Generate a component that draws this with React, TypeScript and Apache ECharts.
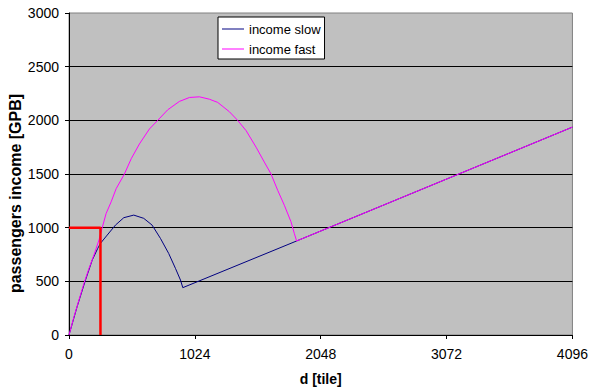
import React, { useEffect, useRef } from "react";
import * as echarts from "echarts";

const xTicks = [0, 1024, 2048, 3072, 4096];
const yTicks = [0, 500, 1000, 1500, 2000, 2500, 3000];

const dSlow = [0, 66, 134, 189, 234, 256, 311, 378, 446, 527, 608, 676, 744, 811, 866, 907, 926, 1852, 4096];
const incomeSlow = [0, 264, 512, 698, 807, 854, 931, 1024, 1093, 1117, 1087, 1024, 900, 760, 621, 512, 441, 876, 1937];

const dFast = [0, 41, 81, 122, 163, 203, 244, 268, 302, 343, 384, 451, 506, 573, 654, 722, 803, 898, 980, 1061, 1142, 1210, 1305, 1372, 1441, 1522, 1589, 1644, 1698, 1752, 1806, 1833, 1852, 4096];
const incomeFast = [0, 171, 326, 481, 621, 745, 885, 990, 1132, 1241, 1364, 1500, 1642, 1780, 1919, 2000, 2098, 2176, 2213, 2219, 2197, 2167, 2080, 2000, 1904, 1750, 1611, 1500, 1348, 1209, 1055, 947, 876, 1937];

const markerD = [0, 256, 256];
const markerV = [1000, 1000, 0];

const FONT = "'Liberation Sans', Arial, sans-serif";

export default function App() {
  const ref = useRef<HTMLDivElement>(null);
  useEffect(() => {
    if (!ref.current) return;
    const chart = echarts.init(ref.current, null, { renderer: "svg" });
    const zip = (xs: number[], ys: number[]) => xs.map((x, i) => [x, ys[i]]);
    const plain = (v: number) => String(v);
    chart.setOption({
      animation: false,
      backgroundColor: "#ffffff",
      textStyle: { fontFamily: FONT },
      grid: {
        left: 69,
        top: 13,
        width: 504,
        height: 324,
        show: true,
        backgroundColor: "#C0C0C0",
        borderColor: "#808080",
        borderWidth: 1,
      },
      legend: {
        data: ["income slow", "income fast"],
        orient: "vertical",
        left: 218,
        top: 17,
        icon: "rect",
        itemWidth: 22,
        itemHeight: 1,
        itemGap: 6,
        padding: [5, 4, 3, 4],
        backgroundColor: "#ffffff",
        borderColor: "#000000",
        borderWidth: 1,
        borderRadius: 0,
        textStyle: { fontFamily: FONT, fontSize: 13, color: "#000", lineHeight: 14, padding: [0, 0, 0, 0] },
      },
      xAxis: {
        type: "value",
        min: xTicks[0],
        max: xTicks[xTicks.length - 1],
        interval: 1024,
        name: "d [tile]",
        nameLocation: "middle",
        nameGap: 37,
        nameTextStyle: { fontFamily: FONT, fontSize: 14, fontWeight: "bold", color: "#000" },
        axisLine: { show: true, lineStyle: { color: "#000", width: 1 } },
        axisTick: { show: true, length: 4, lineStyle: { color: "#000" } },
        axisLabel: { fontFamily: FONT, fontSize: 14, color: "#000", margin: 12, formatter: plain },
        splitLine: { show: false },
      },
      yAxis: {
        type: "value",
        min: yTicks[0],
        max: yTicks[yTicks.length - 1],
        interval: 500,
        axisLine: { show: true, lineStyle: { color: "#000", width: 1 } },
        axisTick: { show: true, length: 4, lineStyle: { color: "#000" } },
        axisLabel: { fontFamily: FONT, fontSize: 14, color: "#000", margin: 10, formatter: plain },
        splitLine: { show: true, showMinLine: false, showMaxLine: false, lineStyle: { color: "#000", width: 1 } },
      },
      graphic: [
        {
          type: "text",
          x: 15,
          y: 193.5,
          rotation: Math.PI / 2,
          style: {
            text: "passengers income [GPB]",
            font: "bold 16px 'Liberation Sans', Arial, sans-serif",
            fill: "#000",
            align: "center",
            verticalAlign: "middle",
          },
        },
      ],
      series: [
        {
          name: "income slow",
          type: "line",
          data: zip(dSlow, incomeSlow),
          showSymbol: false,
          symbol: "none",
          lineStyle: { color: "#000080", width: 1 },
          itemStyle: { color: "#000080" },
        },
        {
          name: "income fast",
          type: "line",
          data: zip(dFast, incomeFast),
          showSymbol: false,
          symbol: "none",
          lineStyle: { color: "#FF00FF", width: 1 },
          itemStyle: { color: "#FF00FF" },
        },
        {
          name: "marker",
          type: "line",
          data: zip(markerD, markerV),
          showSymbol: false,
          symbol: "none",
          lineStyle: { color: "#FF0000", width: 2.5 },
          itemStyle: { color: "#FF0000" },
        },
      ],
    });
    return () => chart.dispose();
  }, []);
  return (
    <div
      ref={ref}
      style={{ position: "absolute", left: 0, top: 0, width: 591, height: 391 }}
    />
  );
}
